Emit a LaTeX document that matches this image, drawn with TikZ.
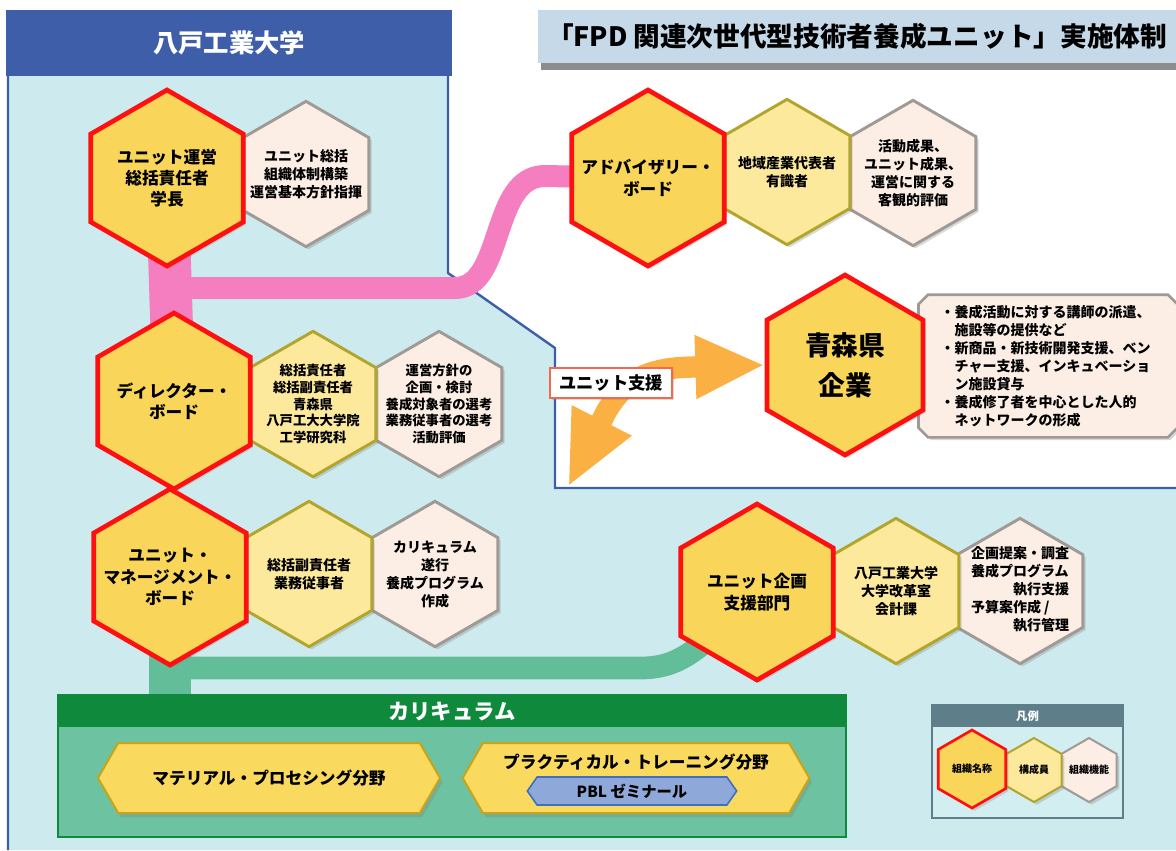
\documentclass[tikz,border=0pt]{standalone}
\usepackage{fontspec}
\setmainfont{Noto Sans CJK JP}
\usetikzlibrary{shapes.geometric,shapes.symbols,shapes.misc,shadows,arrows.meta}
\definecolor{cregion}{HTML}{CDEBEE}
\definecolor{cuniblue}{HTML}{3E5EA9}
\definecolor{ctitle}{HTML}{C5D9E9}
\definecolor{chexred}{HTML}{FF1010}
\definecolor{chexgold}{HTML}{F9D65A}
\definecolor{cmemfill}{HTML}{FCE99C}
\definecolor{cmemdraw}{HTML}{B2A52E}
\definecolor{cfunfill}{HTML}{FCEEE4}
\definecolor{cfundraw}{HTML}{A09A96}
\definecolor{cpink}{HTML}{F47EC0}
\definecolor{cgreen}{HTML}{62BE98}
\definecolor{ccurr}{HTML}{6DC3A1}
\definecolor{ccurrdark}{HTML}{0F8A3D}
\definecolor{cgold}{HTML}{FADA5E}
\definecolor{cgolddraw}{HTML}{C8A418}
\definecolor{cpbl}{HTML}{8FA8DA}
\definecolor{cpbldraw}{HTML}{3F6FBF}
\definecolor{corange}{HTML}{FAB042}
\definecolor{csuplab}{HTML}{F26A4B}
\definecolor{clegend}{HTML}{5E7F8A}
\definecolor{clegfill}{HTML}{D2EEF1}
\pgfdeclarelayer{back}
\pgfdeclarelayer{band}
\pgfsetlayers{back,band,main}

\begin{document}
\begin{tikzpicture}[x=0.75pt, y=-0.75pt,
	every node/.style={font=\bfseries},
	bighex/.style={regular polygon, regular polygon sides=6, shape border rotate=90, minimum size=132pt, inner sep=0pt, draw=chexred, line width=3.5pt, fill=chexgold, drop shadow={shadow xshift=2pt, shadow yshift=-2pt, opacity=0.3}},
	memhex/.style={bighex, minimum size=109pt, draw=cmemdraw, line width=2.2pt, fill=cmemfill},
	funhex/.style={bighex, minimum size=109pt, draw=cfundraw, line width=2.2pt, fill=cfunfill},
	bigtext/.style={align=center, font=\bfseries\fontsize{12.5}{16}\selectfont},
	smalltext/.style={align=center, font=\bfseries\fontsize{10.5}{13.5}\selectfont},
	tighttext/.style={align=center, font=\bfseries\fontsize{10}{12.5}\selectfont},
	legtext/.style={font=\bfseries\fontsize{7.5}{9}\selectfont},
	field/.style={signal, signal to=west and east, signal pointer angle=120, minimum height=52.5pt, inner sep=0pt, fill=cgold, draw=cgolddraw, line width=1.5pt, drop shadow={shadow xshift=2pt, shadow yshift=-3pt, opacity=0.3}},
	fieldtext/.style={font=\bfseries\fontsize{12.5}{15}\selectfont},
	pinkwide/.style={draw=cpink, line width=32pt},
	pinkband/.style={draw=cpink, line width=16.5pt},
	greenwide/.style={draw=cgreen, line width=32pt},
	greenband/.style={draw=cgreen, line width=17pt},
	suparrow/.style={draw=corange, line width=16pt, {Triangle[length=56pt,width=46pt]}-{Triangle[length=52pt,width=44pt]}}]
	\useasboundingbox (0,0) rectangle (1176,850);
	
	% university area
	\begin{pgfonlayer}{back}
		\fill[cregion] (8,76) -- (448,76) -- (448,273) -- (555,348) -- (555,488) -- (1176,488) -- (1176,850) -- (8,850) -- cycle;
		\draw[cuniblue, line width=1.8pt] (8,850) -- (8,76) (448,76) -- (448,273) -- (555,348) -- (555,488) -- (1176,488);
	\end{pgfonlayer}
	\node[fill=cuniblue, minimum width=334.5pt, minimum height=49.5pt, text=white, font=\bfseries\fontsize{19}{19}\selectfont] (univ) at (229,43) {八戸工業大学};
	\node[fill=ctitle, minimum width=478.5pt, minimum height=39.75pt, font=\bfseries\fontsize{20}{20}\selectfont, drop shadow={shadow xshift=2pt, shadow yshift=-5pt, fill=black!45, opacity=1}] (title) at (857,36.5) {「FPD 関連次世代型技術者養成ユニット」実施体制};
	
	% top row
	\node[funhex, label={[smalltext]center:{ユニット総括\\組織体制構築\\運営基本方針指揮}}] (unitfun) at (306,174) {};
	\node[bighex, label={[bigtext]center:{ユニット運営\\総括責任者\\学長}}] (unit) at (167,178) {};
	
	\node[funhex, label={[smalltext]center:{活動成果、\\ユニット成果、\\運営に関する\\客観的評価}}] (advfun) at (913,173) {};
	\node[memhex, label={[smalltext]center:{地域産業代表者\\有識者}}] (advmem) at (787,172) {};
	\node[bighex, label={[bigtext]center:{アドバイザリー・\\ボード}}] (adv) at (648,178) {};
	
	% aomori
	\node[chamfered rectangle, draw=cfundraw, line width=2pt, fill=cfunfill, text width=161pt, minimum height=107pt, inner xsep=13pt, align=left, font=\bfseries\fontsize{10.5}{13.5}\selectfont, drop shadow={shadow xshift=2pt, shadow yshift=-2pt, opacity=0.3}] (aoinfo) at (1048,366) {・養成活動に対する講師の派遣、\\　施設等の提供など\\・新商品・新技術開発支援、ベン\\　チャー支援、インキュベーショ\\　ン施設貸与\\・養成修了者を中心とした人的\\　ネットワークの形成};
	\node[bighex, minimum size=135pt, label={[align=center, font=\bfseries\fontsize{20}{30}\selectfont]center:{青森県\\企業}}] (aomori) at (845,365) {};
	
	% management
	\node[funhex, label={[smalltext]center:{カリキュラム\\遂行\\養成プログラム\\作成}}] (mgmtfun) at (435,574) {};
	\node[memhex, label={[smalltext]center:{総括副責任者\\業務従事者}}] (mgmtmem) at (309,574) {};
	\node[bighex, label={[bigtext]center:{ユニット・\\マネージメント・\\ボード}}] (mgmt) at (170,577) {};
	
	% director
	\node[funhex, label={[tighttext]center:{運営方針の\\企画・検討\\養成対象者の選考\\業務従事者の選考\\活動評価}}] (dirfun) at (439,404) {};
	\node[memhex, label={[tighttext]center:{総括責任者\\総括副責任者\\青森県\\八戸工大大学院\\工学研究科}}] (dirmem) at (313,404) {};
	\node[bighex, label={[bigtext]center:{ディレクター・\\ボード}}] (dir) at (174,401) {};
	
	% planning
	\node[funhex, label={[smalltext]center:{\begin{tabular}{@{}l@{}}企画提案・調査\\養成プログラム\\\hfill 執行支援\\予算案作成 /\\\hfill 執行管理\end{tabular}}}] (planfun) at (1020,591) {};
	\node[memhex, label={[smalltext]center:{八戸工業大学\\大学改革室\\会計課}}] (planmem) at (896,591) {};
	\node[bighex, label={[bigtext]center:{ユニット企画\\支援部門}}] (plan) at (757,592) {};
	
	% curriculum
	\node[fill=ccurr, draw=ccurrdark, line width=2pt, minimum width=591pt, minimum height=106.5pt] (curr) at (452,766) {};
	\node[fill=ccurrdark, minimum width=591pt, minimum height=24pt, text=white, font=\bfseries\fontsize{16}{16}\selectfont] (currhead) at (452,711) {カリキュラム};
	\node[field, minimum width=256.5pt, fieldtext] (matl) at (269,778) {マテリアル・プロセシング分野};
	\node[field, minimum width=260pt, label={[fieldtext, yshift=12pt]center:{プラクティカル・トレーニング分野}}] (prac) at (636,778) {};
	\node[signal, signal to=west and east, signal pointer angle=110, minimum width=157pt, minimum height=21pt, inner sep=0pt, fill=cpbl, draw=cpbldraw, line width=1.2pt, font=\bfseries\fontsize{11.5}{12}\selectfont] (pbl) at (632,791) {PBL ゼミナール};
	
	% legend
	\node[fill=clegfill, draw=clegend, line width=1.5pt, minimum width=143.25pt, minimum height=84.75pt] (legend) at (1027.5,761.5) {};
	\node[fill=clegend, minimum width=143.25pt, minimum height=16.5pt, text=white, font=\bfseries\fontsize{8.5}{9}\selectfont] (leghead) at (1027.5,716) {凡例};
	\node[funhex, minimum size=48pt, line width=1.5pt, label={[legtext]center:{組織機能}}] (legfun) at (1089,770) {};
	\node[memhex, minimum size=48pt, line width=1.5pt, label={[legtext]center:{構成員}}] (legmem) at (1034,770) {};
	\node[bighex, minimum size=58.5pt, line width=2pt, label={[legtext]center:{組織名称}}] (legbig) at (972,769) {};
	
	% connectors
	\coordinate (pturn) at (150,288);
	\coordinate (gturn) at (150,668);
	\coordinate (sup) at (568,487);
	\begin{pgfonlayer}{band}
		\draw[pinkwide] (unit.center) -- (dir.center);
		\draw[pinkband] (pturn) -- (455,288) .. controls (505,288) and (490,176) .. (545,176) -- (adv.center);
		\draw[greenwide] (mgmt.center) -- (mgmt.center |- curr.north);
		\draw[greenband] (gturn) -- (640,668) .. controls (680,668) and (700,650) .. (plan.center);
		\draw[suparrow] (sup) -- (606,412) .. controls (626,378) and (650,367) .. (697,367) -- (aomori.west);
	\end{pgfonlayer}
	\node[fill=white, draw=csuplab, line width=1.5pt, inner xsep=6.5pt, minimum height=22.5pt, font=\bfseries\fontsize{13}{13}\selectfont, drop shadow={shadow xshift=1.5pt, shadow yshift=-1.5pt, opacity=0.3}] (suplab) at (611,383) {ユニット支援};
\end{tikzpicture}
\end{document}
